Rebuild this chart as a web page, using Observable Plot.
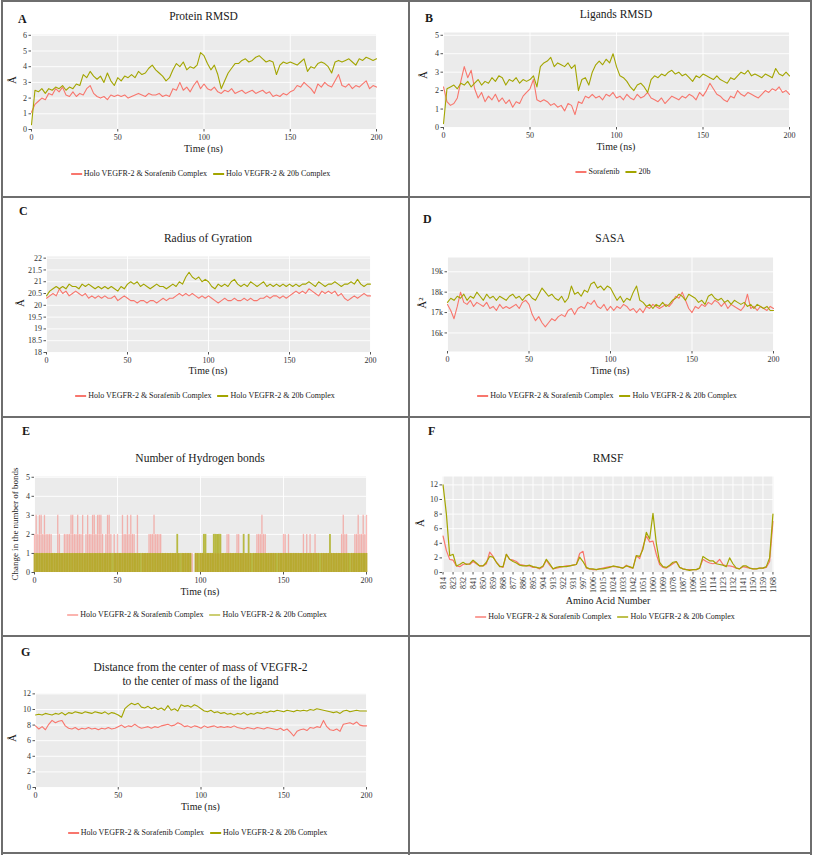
<!DOCTYPE html>
<html><head><meta charset="utf-8">
<script src="https://cdn.jsdelivr.net/npm/d3@7"></script>
<script src="https://cdn.jsdelivr.net/npm/@observablehq/plot@0.6"></script>
<style>
html,body{margin:0;background:#fff;}
#fig,#fig *{font-family:"Liberation Serif","Times New Roman",Times,serif;}
#fig{position:relative;width:813px;height:855px;overflow:hidden;background:#fff;}
.t{position:absolute;white-space:nowrap;color:#1a1a1a;line-height:1;}
.ln{position:absolute;background:#6e6e6e;}
.lg{position:absolute;white-space:nowrap;line-height:1;font-size:8px;color:#222;transform:translate(-50%,-50%);display:flex;align-items:center;}
.lg i{display:inline-block;width:11px;height:1.5px;margin-right:2px;}
.lg b{font-weight:normal;margin-right:6px;}
</style></head><body><div id="fig"></div>
<script>
// ---------------- DATA ----------------
const timeNs = d3.range(0, 201, 2);          // sampling grid (ns)
const hbTime = d3.range(0, 201, 1);          // H-bond sampling grid (ns)
const seriesNames = ["Holo VEGFR-2 & Sorafenib Complex", "Holo VEGFR-2 & 20b Complex"];
const ligandNames = ["Sorafenib", "20b"];
const timeTicks = [0, 50, 100, 150, 200];

const proteinRmsdSorafenib = [1.1,1.6,1.8,2.0,1.9,2.3,2.2,2.6,2.4,2.7,
 2.2,2.1,2.4,2.1,2.3,2.2,2.6,2.8,2.3,2.1,
 2.0,2.1,1.9,2.2,2.1,2.2,2.1,2.2,2.0,2.1,
 2.2,2.3,2.2,2.1,2.3,2.2,2.2,2.3,2.1,2.2,
 2.1,2.6,2.5,3.0,2.5,2.7,2.4,2.8,3.1,2.6,
 2.9,2.6,2.5,2.7,2.4,2.3,2.5,2.4,2.6,2.3,
 2.4,2.5,2.3,2.4,2.5,2.3,2.4,2.5,2.3,2.4,
 2.1,2.2,2.1,2.3,2.2,2.4,2.5,2.8,2.7,3.0,
 2.8,2.6,2.3,2.9,2.7,3.0,2.8,2.7,3.1,3.5,
 2.8,2.7,2.9,2.6,2.8,2.7,2.9,3.1,2.6,2.8,
 2.7];
const proteinRmsd20b = [0.3,2.5,2.4,2.6,2.3,2.6,2.5,2.7,2.6,2.8,
 2.5,2.7,2.6,2.9,2.8,3.5,3.3,3.7,3.4,3.2,
 3.4,3.0,3.6,3.1,2.8,3.3,3.1,3.4,3.3,3.5,
 3.3,3.7,3.5,3.6,3.9,4.1,3.8,3.6,3.4,3.1,
 3.3,3.8,4.2,4.0,4.3,3.8,4.0,3.9,4.1,4.9,
 4.7,4.2,3.8,4.1,3.5,2.6,3.1,3.6,3.9,4.2,
 4.2,4.4,4.5,4.3,4.4,4.6,4.7,4.5,4.3,4.4,
 4.3,3.5,4.1,4.3,4.2,4.3,4.2,4.1,4.3,4.5,
 3.7,4.0,3.9,4.2,4.3,4.2,4.0,3.6,4.3,4.4,
 4.3,4.4,4.5,4.3,4.1,4.5,4.4,4.6,4.5,4.4,
 4.5];

const ligandRmsdSorafenib = [2.2,1.4,1.2,1.3,1.6,2.5,3.3,2.7,3.1,2.1,
 1.6,1.9,1.4,1.7,1.5,1.8,1.4,1.6,1.3,1.5,
 1.1,1.4,1.3,1.7,1.9,2.1,2.6,1.5,1.4,1.5,
 1.4,1.2,1.3,1.1,1.2,0.9,1.3,1.2,0.7,1.4,
 1.3,1.7,1.6,1.8,1.6,1.7,1.5,1.8,1.7,1.9,
 1.6,1.7,1.5,1.8,1.6,1.5,1.8,1.6,1.7,1.9,
 1.6,1.5,1.4,1.6,1.3,1.5,1.7,1.6,1.5,1.7,
 1.6,1.8,1.7,1.5,1.9,1.7,2.0,2.4,2.1,1.8,
 1.7,1.5,1.4,1.7,1.6,2.0,1.8,1.7,1.9,1.8,
 1.7,1.6,1.8,2.0,1.9,2.1,2.0,2.2,1.9,2.0,
 1.8];
const ligandRmsd20b = [0.2,2.1,2.2,2.3,2.1,2.4,2.3,2.5,2.2,2.4,
 2.6,2.3,2.5,2.4,2.7,2.5,2.8,2.7,2.3,2.6,
 2.5,2.7,2.4,2.6,2.5,2.6,2.8,2.2,3.3,3.5,
 3.6,3.8,3.3,3.5,3.4,3.3,3.5,3.2,3.4,2.0,
 2.6,2.7,2.3,3.0,3.4,3.6,3.4,3.7,3.5,4.0,
 3.3,2.8,2.7,2.5,2.2,2.0,2.3,2.4,2.2,1.9,
 2.6,2.8,2.7,2.9,2.8,3.0,3.1,2.9,3.0,2.8,
 2.9,2.7,2.5,2.8,2.7,2.9,2.8,2.7,2.6,2.8,
 2.6,2.5,2.4,2.7,2.6,2.8,3.0,2.9,3.1,2.8,
 2.9,2.8,2.7,2.9,2.8,2.7,3.2,2.9,2.8,3.0,
 2.8];

const rgSorafenib = [20.3,20.4,20.5,20.4,20.7,20.5,20.6,20.4,20.5,20.6,
 20.5,20.4,20.5,20.3,20.4,20.3,20.4,20.3,20.4,20.3,
 20.3,20.4,20.2,20.3,20.4,20.3,20.2,20.2,20.1,20.2,
 20.2,20.1,20.2,20.2,20.1,20.2,20.3,20.2,20.3,20.3,
 20.4,20.5,20.4,20.5,20.4,20.5,20.4,20.3,20.4,20.3,
 20.4,20.3,20.2,20.1,20.2,20.3,20.2,20.2,20.3,20.2,
 20.2,20.3,20.2,20.3,20.2,20.2,20.3,20.3,20.4,20.3,
 20.4,20.4,20.3,20.4,20.3,20.4,20.5,20.6,20.5,20.6,
 20.5,20.7,20.6,20.5,20.4,20.6,20.5,20.6,20.5,20.6,
 20.4,20.5,20.3,20.2,20.3,20.4,20.3,20.4,20.5,20.4,
 20.4];
const rg20b = [20.4,20.6,20.7,20.8,20.7,20.8,20.7,20.9,20.8,20.8,
 20.7,20.9,20.8,20.9,20.8,20.7,20.8,20.7,20.8,20.7,
 20.8,20.7,20.6,20.8,20.7,20.9,21.0,20.9,21.0,20.8,
 20.9,20.8,20.7,20.8,20.9,20.8,20.8,20.7,20.8,20.9,
 20.8,21.0,20.9,21.2,21.4,21.2,21.1,21.2,21.0,21.1,
 21.0,20.8,20.7,20.9,20.8,20.9,20.8,21.0,21.1,20.9,
 20.8,20.9,20.8,21.0,20.9,20.8,20.9,21.0,20.8,20.9,
 20.8,20.9,20.8,20.9,20.8,20.9,20.8,20.9,20.8,20.9,
 20.9,21.0,20.9,20.8,21.0,20.9,20.8,20.9,20.9,21.0,
 20.9,20.8,20.9,20.9,21.0,20.9,21.1,20.9,20.8,20.9,
 20.9];

const sasaSorafenib = [17400,17100,16700,17300,18000,17500,17400,17600,17300,17500,
 17400,17300,17500,17200,17300,17100,17400,17200,17300,17200,
 17300,17400,17200,17500,17600,17400,16900,16600,16800,16500,
 16300,16500,16700,16600,16800,16900,16800,17100,17200,16900,
 17200,17300,17200,17500,17400,17600,17300,17200,17400,17100,
 17300,17100,17300,17200,17400,17300,17100,17200,17000,17200,
 17000,17300,17200,17400,17300,17200,17300,17400,17300,17500,
 17800,17700,18000,17600,17200,17000,17300,17200,17400,17300,
 17500,17400,17600,17500,17300,17500,17200,17400,17300,17200,
 17100,17300,17900,17200,17300,17100,17300,17200,17100,17300,
 17200];
const sasa20b = [17500,17700,17600,17800,17700,17900,17600,17800,17700,18000,
 17800,17600,17900,17700,17800,17600,17800,17700,17600,17800,
 17900,17700,17800,17600,17800,17900,17700,17600,17900,18200,
 18000,17800,17900,17700,17600,17800,17500,17700,18300,17900,
 18000,17800,18100,18000,18400,18500,18200,18300,18100,18300,
 18200,17900,17600,17800,17500,17700,17600,18000,18300,17600,
 17500,17300,17400,17200,17400,17300,17500,17300,17400,17600,
 17700,17900,17800,17600,17900,17800,17700,17500,17600,17400,
 17800,17900,17700,17600,17700,17500,17600,17400,17600,17500,
 17400,17500,17300,17400,17200,17400,17300,17200,17300,17100,
 17100];

const comDistSorafenib = [7.9,7.5,7.8,7.4,8.1,8.6,8.3,8.5,8.6,7.9,
 7.6,7.5,7.7,7.4,7.6,7.5,7.7,7.5,7.6,7.4,
 7.6,7.5,7.7,7.5,7.6,7.8,8.0,7.7,7.9,7.8,
 8.1,7.8,7.6,7.7,7.8,7.6,7.8,7.7,7.9,8.0,
 8.1,7.9,8.0,8.3,8.1,7.8,7.9,7.7,7.9,7.8,
 7.6,7.9,7.7,7.8,7.9,7.7,7.8,7.7,7.8,7.7,
 7.9,7.7,7.6,7.5,7.7,7.6,7.5,7.7,7.6,7.5,
 7.7,7.6,7.5,7.4,7.6,7.3,7.5,7.1,6.6,7.2,
 7.4,7.5,7.3,7.7,7.6,7.8,7.7,8.6,7.8,7.4,
 7.3,7.5,7.2,8.1,8.2,8.3,8.1,8.4,8.0,7.9,
 7.9];
const comDist20b = [9.3,9.4,9.3,9.5,9.4,9.3,9.5,9.4,9.6,9.3,
 9.6,9.5,9.7,9.6,9.5,9.7,9.6,9.5,9.7,9.6,
 9.5,9.7,9.4,9.6,9.5,9.3,9.0,10.1,10.5,10.8,
 10.6,10.8,10.3,10.2,10.4,10.1,10.3,10.0,10.2,9.9,
 10.5,9.9,10.1,9.8,10.6,10.4,10.5,10.3,10.6,10.4,
 10.1,9.8,9.7,9.9,9.6,9.7,9.5,9.6,9.4,9.5,
 9.3,9.5,9.4,9.6,9.3,9.5,9.4,9.6,9.5,9.7,
 9.6,9.8,9.7,9.9,9.8,9.7,9.9,9.8,9.7,9.9,
 9.8,9.9,9.8,10.0,9.9,10.1,10.0,9.9,9.8,9.7,
 9.6,9.7,9.5,9.8,9.9,9.7,9.8,9.9,9.8,9.8,
 9.8];

const hbondSorafenib = [2,3,2,3,3,2,3,2,2,2,
 2,1,1,1,3,2,1,1,2,2,
 2,2,3,3,2,2,3,2,2,3,
 1,2,3,2,2,3,3,2,3,3,
 3,2,1,2,3,3,2,0,2,1,
 2,1,1,3,2,2,3,2,3,2,
 2,1,3,1,0,1,1,1,1,2,
 2,2,3,2,2,2,2,1,1,1,
 1,1,1,1,1,1,1,1,0,1,
 1,1,1,1,1,1,0,1,1,0,
 1,1,1,1,1,1,1,1,1,1,
 1,1,1,1,1,1,2,2,1,1,
 1,1,2,2,1,1,1,1,1,1,
 1,0,1,1,2,2,2,3,2,2,
 1,1,1,1,1,1,0,1,1,1,
 2,2,1,2,1,1,1,1,1,1,
 1,1,2,1,2,1,2,1,1,2,
 1,1,0,1,1,1,1,1,1,1,
 1,1,1,1,1,2,3,2,2,1,
 0,1,1,2,2,3,2,2,3,2,
 3];
const hbond20b = [1,1,1,1,1,1,1,1,1,1,
 1,1,1,1,1,1,1,1,1,1,
 1,1,1,1,1,1,1,1,1,1,
 1,1,1,1,1,1,1,1,1,1,
 1,1,1,1,1,1,1,1,1,1,
 1,1,1,1,1,1,1,1,1,1,
 1,1,1,1,1,1,1,1,1,1,
 1,1,1,1,1,1,1,1,1,1,
 1,1,1,1,1,1,2,1,1,1,
 1,1,1,1,1,0,0,1,1,1,
 1,1,2,2,1,1,1,1,2,2,
 2,2,2,1,1,1,1,1,1,1,
 1,1,1,1,1,1,2,1,1,2,
 1,1,1,1,1,1,1,1,1,1,
 1,1,1,1,1,1,1,1,1,1,
 1,1,1,1,1,1,1,1,1,1,
 1,1,1,1,1,1,1,1,1,1,
 1,1,1,1,1,1,1,1,2,1,
 1,1,1,1,1,1,1,1,1,1,
 1,1,1,1,1,1,1,1,1,1,
 1];

// RMSF: residues 814-939 and 997-1168 (kinase insert domain absent)
const residues = [...d3.range(814, 940), ...d3.range(997, 1169)];
const rmsfTickLabels = [814,823,832,841,850,859,868,877,886,895,904,913,922,931,
 997,1006,1015,1024,1033,1042,1051,1060,1069,1078,1087,1096,1105,1114,1123,1132,1141,1150,1159,1168];
const rmsfIdx = d3.range(0, 298, 3);        // sampled residue positions
const rmsfSorafenib = [5.0,3.0,1.8,1.7,0.9,0.8,1.1,1.2,1.1,1.5,
 1.2,0.9,0.9,1.2,2.8,2.2,1.4,0.9,0.7,2.5,
 1.8,1.7,1.5,1.1,1.0,0.9,0.9,0.7,0.7,0.5,
 0.8,1.7,1.0,0.5,0.6,0.7,0.8,0.9,0.9,1.0,
 1.1,2.6,2.9,0.6,0.5,0.4,0.4,0.5,0.6,0.7,
 0.8,0.8,0.8,0.7,0.6,1.0,0.7,0.6,2.3,1.9,
 3.5,5.0,4.2,4.3,2.5,1.1,0.7,0.6,0.9,1.2,
 1.5,0.7,0.5,0.4,0.4,0.4,0.4,0.6,1.8,1.5,
 1.3,1.2,1.3,1.8,1.1,0.9,0.9,0.8,0.6,0.5,
 0.8,0.7,0.6,0.5,0.5,0.6,0.6,0.7,1.5,7.0];
const rmsf20b = [12.0,8.0,2.3,2.5,0.9,1.1,1.4,1.1,1.2,1.7,
 1.3,0.9,0.9,1.4,2.2,2.1,1.4,0.8,0.8,2.5,
 1.8,1.5,1.3,1.0,0.9,0.9,1.0,0.8,0.7,0.6,
 0.9,1.8,1.2,0.5,0.7,0.8,0.8,0.8,0.9,1.0,
 1.1,2.1,1.5,0.7,0.5,0.5,0.4,0.5,0.5,0.6,
 0.7,0.9,0.8,0.7,0.6,0.9,0.8,0.6,2.3,2.2,
 3.2,5.5,4.6,8.1,4.0,1.4,0.8,0.7,1.0,1.4,
 1.5,0.7,0.5,0.4,0.3,0.4,0.4,0.6,2.2,1.9,
 1.6,1.6,1.2,1.1,1.0,0.8,2.0,1.2,0.6,0.5,
 0.9,0.9,0.6,0.5,0.5,0.6,0.6,0.8,2.0,8.0];

// ---------------- DRAWING ----------------
const FONT = '"Liberation Serif","Times New Roman",Times,serif';
const SORA = "#F8766D", B20 = "#A3A500";
const fig = document.getElementById("fig");

function line(x, y, w, h) {
  const d = document.createElement("div");
  d.className = "ln";
  Object.assign(d.style, {left: x + "px", top: y + "px", width: w + "px", height: h + "px"});
  fig.appendChild(d);
}
function text(str, x, y, o = {}) {
  const d = document.createElement("div");
  d.className = "t";
  d.textContent = str;
  d.style.left = x + "px"; d.style.top = y + "px";
  d.style.fontSize = (o.size || 11.5) + "px";
  if (o.bold) d.style.fontWeight = "bold";
  const ax = o.anchor === "start" ? "0" : "-50%";
  d.style.transform = `translate(${ax},-50%)` + (o.rotate ? ` rotate(${o.rotate}deg)` : "");
  fig.appendChild(d);
}
function legend(cx, cy, items, op = 1) {
  const d = document.createElement("div");
  d.className = "lg";
  d.style.left = cx + "px"; d.style.top = cy + "px";
  d.innerHTML = items.map(([lab, col]) =>
    `<i style="background:${col};opacity:${op}"></i><b>${lab.replace(/&/g, "&amp;")}</b>`).join("");
  fig.appendChild(d);
}

function panel(cfg) {
  const ML = 44, MR = 14, MT = 4, MB = 40;
  const [x1, y1, x2, y2] = cfg.frame;
  const chart = Plot.plot({
    width: x2 - x1 + ML + MR, height: y2 - y1 + MT + MB,
    marginLeft: ML, marginRight: MR, marginTop: MT, marginBottom: MB,
    style: {fontFamily: FONT, fontSize: "8px", color: "#333", background: "transparent", overflow: "visible"},
    x: {domain: cfg.xDomain || [0, 200]},
    y: {domain: cfg.yDomain},
    marks: [
      Plot.frame({fill: "#EBEBEB", stroke: "none"}),
      Plot.gridX({ticks: cfg.xGrid || timeTicks, stroke: "white", strokeOpacity: 1, strokeWidth: 0.9}),
      Plot.gridY({ticks: cfg.yTicks, stroke: "white", strokeOpacity: 1, strokeWidth: 0.9}),
      ...cfg.marks,
      Plot.axisX({ticks: cfg.xTicks || timeTicks, tickSize: 2.5, tickPadding: 2, label: null,
        tickFormat: cfg.xFormat || (d => String(d)), tickRotate: cfg.xRotate || 0, stroke: "#555"}),
      Plot.axisY({ticks: cfg.yTicks, tickSize: 2.5, tickPadding: 2, label: null,
        tickFormat: cfg.yFormat || (d => String(d)), stroke: "#555"})
    ]
  });
  chart.style.position = "absolute";
  chart.style.left = (x1 - ML) + "px";
  chart.style.top = (y1 - MT) + "px";
  fig.appendChild(chart);
}
const tsLines = (a, b, t = timeNs, w = 1.1) => [
  Plot.line(a, {x: (d, i) => t[i], y: d => d, stroke: SORA, strokeWidth: w}),
  Plot.line(b, {x: (d, i) => t[i], y: d => d, stroke: B20, strokeWidth: w})
];

// grid lines of the figure
[1, 408, 810].forEach(x => line(x, 0, 2, 855));
[0, 196, 416, 635, 852].forEach(y => line(1, y, 811, 2));

// A
panel({frame: [31, 34, 376, 129], yDomain: [0, 6.05], yTicks: [0,1,2,3,4,5,6],
  marks: tsLines(proteinRmsdSorafenib, proteinRmsd20b)});
text("A", 18, 19, {bold: true, size: 12, anchor: "start"});
text("Protein RMSD", 203.5, 17);
text("Time (ns)", 203.5, 149, {size: 10});
text("Å", 12, 80, {size: 11, rotate: -90});
legend(203.5, 174, [[seriesNames[0], SORA], [seriesNames[1], B20]]);

// B
panel({frame: [443, 32, 789, 127], yDomain: [0, 5.15], yTicks: [0,1,2,3,4,5],
  marks: tsLines(ligandRmsdSorafenib, ligandRmsd20b)});
text("B", 425, 17.5, {bold: true, size: 12, anchor: "start"});
text("Ligands RMSD", 616, 15);
text("Time (ns)", 616, 147, {size: 10});
text("Å", 423, 75, {size: 11, rotate: -90});
legend(616, 172, [[ligandNames[0], SORA], [ligandNames[1], B20]]);

// C
panel({frame: [46, 256, 370, 352], yDomain: [18, 22.07], yTicks: [18,18.5,19,19.5,20,20.5,21,21.5,22],
  marks: tsLines(rgSorafenib, rg20b)});
text("C", 19, 211, {bold: true, size: 12, anchor: "start"});
text("Radius of Gyration", 208, 239);
text("Time (ns)", 208, 371, {size: 10});
text("Å", 20, 303, {size: 11, rotate: -90});
legend(208, 396, [[seriesNames[0], SORA], [seriesNames[1], B20]]);

// D
panel({frame: [447, 257, 773, 351], yDomain: [15090, 19700], yTicks: [16000,17000,18000,19000],
  yFormat: d => d / 1000 + "k", marks: tsLines(sasaSorafenib, sasa20b)});
text("D", 423, 219, {bold: true, size: 12, anchor: "start"});
text("SASA", 610, 239);
text("Time (ns)", 610, 371, {size: 10});
text("Å²", 422, 303, {size: 11, rotate: -90});
legend(610, 396, [[seriesNames[0], SORA], [seriesNames[1], B20]]);

// E
panel({frame: [34, 476, 366, 572], yDomain: [0, 5.04], yTicks: [0,1,2,3,4,5],
  marks: [
    Plot.ruleX(hbondSorafenib, {x: (d, i) => hbTime[i], y1: 0, y2: d => d, stroke: SORA, strokeOpacity: 0.5, strokeWidth: 1.3}),
    Plot.ruleX(hbond20b, {x: (d, i) => hbTime[i], y1: 0, y2: d => d, stroke: B20, strokeOpacity: 0.72, strokeWidth: 1.8})
  ]});
text("E", 22, 431, {bold: true, size: 12, anchor: "start"});
text("Number of Hydrogen bonds", 200, 459);
text("Time (ns)", 200, 592, {size: 10});
text("Change in the number of bonds", 15, 524, {size: 9, rotate: -90});
legend(200, 615, [[seriesNames[0], SORA], [seriesNames[1], B20]], 0.55);

// F
const rmsfTickIdx = rmsfTickLabels.map(r => residues.indexOf(r));
panel({frame: [442, 476, 773, 572], xDomain: [-0.5, 297.5], yDomain: [0, 13.15], yTicks: [0,2,4,6,8,10,12],
  xTicks: rmsfTickIdx, xGrid: rmsfTickIdx, xFormat: d => String(residues[d]), xRotate: -90,
  marks: tsLines(rmsfSorafenib, rmsf20b, rmsfIdx, 1.2)});
text("F", 428, 431, {bold: true, size: 12, anchor: "start"});
text("RMSF", 608, 459);
text("Amino Acid Number", 608, 601, {size: 10});
text("Å", 420, 523, {size: 11, rotate: -90});
legend(608, 617, [[seriesNames[0], SORA], [seriesNames[1], B20]], 0.7);

// G
panel({frame: [35, 693, 366, 787], yDomain: [0, 12.05], yTicks: [0,2,4,6,8,10,12],
  marks: tsLines(comDistSorafenib, comDist20b)});
text("G", 21, 652, {bold: true, size: 12, anchor: "start"});
text("Distance from the center of mass of VEGFR-2", 200.5, 668);
text("to the center of mass of the ligand", 200.5, 681.5);
text("Time (ns)", 200.5, 807, {size: 10});
text("Å", 12, 738, {size: 11, rotate: -90});
legend(200.5, 833, [[seriesNames[0], SORA], [seriesNames[1], B20]]);
</script></body></html>
